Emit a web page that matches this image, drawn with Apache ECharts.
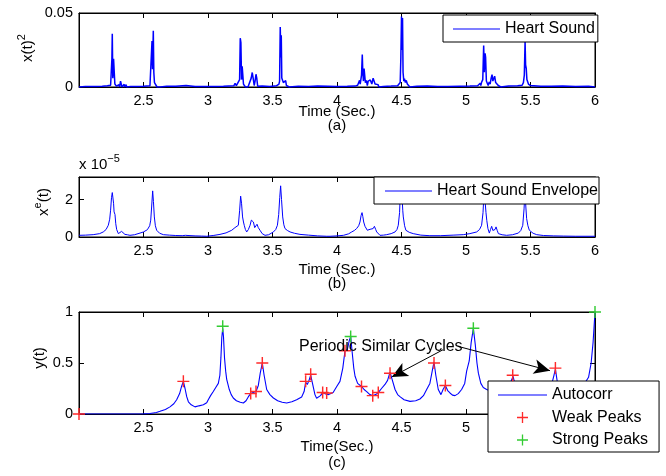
<!DOCTYPE html>
<html>
<head>
<meta charset="utf-8">
<script src="https://cdn.jsdelivr.net/npm/echarts@6/dist/echarts.min.js"></script>
<style>
html,body{margin:0;padding:0;background:#fff;}
#c{width:666px;height:476px;}
</style>
</head>
<body>
<div id="c"></div>
<script>
// ---------- DATA ----------
// (a) squared heart sound x(t)^2 : [time (s), value]
const heartSound = [
[2.00,0],[2.05,0.0003],[2.06,0],[2.12,0.0004],[2.13,0],[2.18,0.0005],[2.19,0],[2.22,0.0008],[2.23,0],
[2.245,0.0012],[2.25,0.002],[2.255,0.019],[2.258,0.036],[2.262,0.006],[2.268,0.019],[2.273,0.018],[2.278,0.002],
[2.29,0.0006],[2.3,0.0003],[2.31,0.0015],[2.315,0],[2.322,0.004],[2.328,0.0035],[2.333,0],[2.34,0.001],[2.35,0.0018],
[2.355,0],[2.365,0.0016],[2.37,0],[2.4,0.0004],[2.41,0],[2.45,0.0003],[2.46,0],[2.5,0.0005],[2.51,0],
[2.55,0.0008],[2.56,0.002],[2.566,0.031],[2.57,0.012],[2.576,0.038],[2.58,0.01],[2.585,0.003],[2.59,0.0035],
[2.595,0.002],[2.6,0.0032],[2.605,0],[2.62,0.0006],[2.63,0],[2.68,0.0005],[2.69,0],[2.75,0.0005],[2.76,0],
[2.83,0.001],[2.84,0.0008],[2.845,0],[2.9,0.0004],[2.91,0],[2.97,0.0003],[2.98,0],[3.05,0.0004],[3.06,0],
[3.12,0.0005],[3.13,0],[3.2,0.0008],[3.21,0.0025],[3.215,0.0027],[3.22,0.001],[3.235,0.001],[3.245,0.005],
[3.25,0.033],[3.255,0.03],[3.26,0.005],[3.265,0.014],[3.27,0.013],[3.275,0.002],[3.285,0.001],[3.29,0],
[3.3,0.001],[3.31,0],[3.325,0.001],[3.335,0.006],[3.343,0.0098],[3.35,0.006],[3.358,0.001],[3.365,0.004],
[3.372,0.0086],[3.378,0.006],[3.385,0.0005],[3.39,0],[3.42,0.0006],[3.43,0],[3.48,0.0004],[3.49,0],
[3.53,0.0008],[3.54,0.0012],[3.55,0.002],[3.555,0.004],[3.56,0.0405],[3.565,0.02],[3.568,0.035],[3.572,0.006],
[3.578,0.0045],[3.584,0.003],[3.59,0.0042],[3.596,0.002],[3.602,0.0043],[3.608,0.001],[3.62,0.0008],[3.63,0],
[3.7,0.0005],[3.71,0],[3.78,0.0004],[3.79,0],[3.85,0.0006],[3.86,0],[3.93,0.0005],[3.94,0],[4.0,0.0004],
[4.01,0],[4.08,0.0005],[4.09,0],[4.14,0.0006],[4.15,0],[4.16,0.0012],[4.165,0.0023],[4.17,0.001],[4.175,0.0045],
[4.18,0.002],[4.19,0.008],[4.196,0.022],[4.2,0.01],[4.205,0.004],[4.21,0.0125],[4.215,0.012],[4.22,0.003],
[4.228,0.0045],[4.235,0.001],[4.242,0.004],[4.25,0.003],[4.258,0.0048],[4.264,0.0052],[4.27,0.002],[4.28,0.006],
[4.287,0.0068],[4.295,0.002],[4.303,0.003],[4.31,0.0008],[4.318,0.0016],[4.325,0],[4.36,0.0004],[4.37,0],
[4.42,0.0006],[4.43,0],[4.47,0.0008],[4.48,0.0015],[4.49,0.003],[4.495,0.02],[4.5,0.0477],[4.504,0.025],
[4.508,0.0466],[4.512,0.01],[4.518,0.004],[4.523,0.0057],[4.53,0.003],[4.537,0.0045],[4.545,0.002],[4.555,0.0015],
[4.565,0],[4.62,0.0005],[4.63,0],[4.7,0.0007],[4.71,0],[4.78,0.0004],[4.79,0],[4.86,0.0004],[4.87,0],
[4.95,0.0005],[4.96,0],[5.03,0.0006],[5.04,0],[5.09,0.0008],[5.1,0.0012],[5.11,0.0025],[5.115,0.001],
[5.12,0.003],[5.13,0.005],[5.137,0.028],[5.142,0.01],[5.148,0.0227],[5.152,0.02],[5.158,0.004],[5.165,0.0045],
[5.172,0.001],[5.18,0.0034],[5.187,0.002],[5.195,0.006],[5.202,0.0084],[5.208,0.004],[5.215,0.005],[5.222,0.0073],
[5.23,0.003],[5.24,0.003],[5.25,0.001],[5.26,0.0012],[5.27,0],[5.33,0.0006],[5.34,0],[5.4,0.0008],[5.41,0],
[5.435,0.0012],[5.445,0.003],[5.452,0.008],[5.458,0.031],[5.462,0.015],[5.467,0.0125],[5.472,0.005],
[5.478,0.0045],[5.484,0.002],[5.49,0.0025],[5.5,0.001],[5.51,0],[5.58,0.0005],[5.59,0],[5.66,0.0005],[5.67,0],
[5.75,0.0006],[5.76,0],[5.85,0.0004],[5.86,0],[5.95,0.0005],[5.96,0],[6.0,0]
];

// (b) envelope x^e(t), values in units of 1e-5 : [time, value]
const envelope = [
[2.0,0.09],[2.05,0.1],[2.11,0.125],[2.16,0.18],[2.188,0.27],[2.21,0.4],[2.227,0.625],[2.238,0.95],[2.245,1.43],
[2.252,2.1],[2.258,2.37],[2.264,2.3],[2.268,1.8],[2.272,1.34],[2.279,1.2],[2.285,0.71],[2.292,0.4],[2.305,0.18],
[2.318,0.22],[2.33,0.3],[2.342,0.2],[2.356,0.14],[2.375,0.12],[2.395,0.09],[2.43,0.12],[2.473,0.21],[2.5,0.27],
[2.53,0.39],[2.548,0.6],[2.556,0.9],[2.563,1.6],[2.571,2.46],[2.577,1.9],[2.584,1.07],[2.592,0.6],[2.602,0.36],
[2.625,0.2],[2.654,0.125],[2.7,0.1],[2.75,0.08],[2.8,0.07],[2.825,0.09],[2.835,0.12],[2.845,0.08],[2.9,0.06],
[2.95,0.05],[2.99,0.04],[3.04,0.08],[3.093,0.14],[3.14,0.22],[3.184,0.36],[3.209,0.5],[3.222,0.45],[3.235,0.625],
[3.245,1.4],[3.253,2.18],[3.26,1.8],[3.268,1.07],[3.275,0.8],[3.281,0.625],[3.29,0.4],[3.3,0.27],[3.313,0.4],
[3.326,0.625],[3.336,0.9],[3.344,0.98],[3.352,0.8],[3.362,0.5],[3.372,0.6],[3.38,0.68],[3.39,0.5],[3.403,0.36],
[3.42,0.18],[3.442,0.09],[3.47,0.12],[3.507,0.27],[3.525,0.4],[3.538,0.625],[3.548,1.2],[3.556,2.1],[3.563,2.73],
[3.57,2.0],[3.579,1.07],[3.588,0.65],[3.597,0.45],[3.615,0.35],[3.636,0.27],[3.67,0.2],[3.713,0.14],[3.78,0.1],
[3.85,0.06],[3.92,0.04],[3.946,0.04],[4.0,0.06],[4.05,0.09],[4.09,0.17],[4.114,0.27],[4.135,0.35],[4.152,0.45],
[4.168,0.6],[4.178,0.8],[4.187,1.15],[4.194,1.3],[4.2,1.1],[4.207,0.8],[4.217,0.57],[4.235,0.36],[4.246,0.41],
[4.256,0.41],[4.269,0.32],[4.28,0.45],[4.29,0.57],[4.3,0.4],[4.308,0.27],[4.333,0.09],[4.36,0.1],[4.385,0.125],
[4.42,0.18],[4.45,0.27],[4.465,0.4],[4.475,0.625],[4.485,1.3],[4.49,2.2],[4.496,3.2],[4.503,2.3],[4.51,1.4],
[4.514,1.07],[4.524,0.6],[4.534,0.36],[4.56,0.25],[4.591,0.18],[4.65,0.1],[4.72,0.07],[4.8,0.07],[4.9,0.1],
[4.979,0.125],[5.03,0.18],[5.083,0.27],[5.105,0.4],[5.121,0.625],[5.132,1.3],[5.14,2.4],[5.148,1.9],[5.155,1.3],
[5.161,0.89],[5.17,0.45],[5.181,0.21],[5.19,0.4],[5.199,0.57],[5.208,0.35],[5.217,0.27],[5.225,0.4],[5.233,0.54],
[5.242,0.35],[5.251,0.18],[5.28,0.12],[5.315,0.09],[5.36,0.12],[5.406,0.21],[5.425,0.35],[5.44,0.625],[5.45,1.5],
[5.457,2.45],[5.464,1.6],[5.47,0.98],[5.48,0.6],[5.491,0.36],[5.52,0.2],[5.548,0.125],[5.6,0.08],[5.68,0.06],
[5.755,0.05],[5.85,0.04],[5.93,0.04],[6.0,0.04]
];

// (c) autocorrelation y(t) : [time, value]
const autocorr = [
[2.0,0],[2.1,0],[2.2,0],[2.3,0],[2.4,0],[2.5,0.001],[2.55,0.005],[2.6,0.015],[2.628,0.026],[2.67,0.045],
[2.705,0.07],[2.735,0.1],[2.757,0.14],[2.78,0.2],[2.795,0.27],[2.809,0.32],[2.822,0.25],[2.835,0.17],[2.848,0.12],
[2.87,0.09],[2.899,0.07],[2.93,0.08],[2.964,0.09],[2.99,0.11],[3.002,0.14],[3.02,0.18],[3.041,0.22],[3.06,0.26],
[3.08,0.3],[3.092,0.38],[3.1,0.55],[3.107,0.75],[3.114,0.84],[3.12,0.76],[3.128,0.55],[3.137,0.42],[3.145,0.34],
[3.165,0.24],[3.18,0.19],[3.196,0.157],[3.22,0.13],[3.25,0.115],[3.274,0.108],[3.295,0.13],[3.313,0.17],
[3.331,0.2],[3.35,0.21],[3.372,0.22],[3.39,0.28],[3.405,0.4],[3.421,0.5],[3.435,0.38],[3.455,0.24],[3.48,0.19],
[3.507,0.157],[3.54,0.13],[3.575,0.115],[3.61,0.108],[3.65,0.12],[3.687,0.14],[3.726,0.167],[3.745,0.22],
[3.757,0.31],[3.77,0.29],[3.783,0.33],[3.796,0.38],[3.81,0.3],[3.829,0.19],[3.842,0.155],[3.855,0.147],
[3.872,0.18],[3.889,0.21],[3.905,0.2],[3.92,0.205],[3.935,0.19],[3.95,0.185],[3.97,0.21],[3.998,0.27],
[4.023,0.32],[4.045,0.45],[4.062,0.62],[4.08,0.63],[4.095,0.72],[4.106,0.76],[4.118,0.6],[4.13,0.45],[4.14,0.37],
[4.16,0.3],[4.19,0.27],[4.21,0.24],[4.23,0.22],[4.255,0.19],[4.277,0.18],[4.3,0.19],[4.32,0.21],[4.345,0.25],
[4.372,0.29],[4.392,0.33],[4.411,0.41],[4.425,0.35],[4.45,0.24],[4.47,0.19],[4.488,0.17],[4.52,0.14],[4.566,0.124],
[4.61,0.13],[4.643,0.147],[4.67,0.18],[4.695,0.24],[4.72,0.3],[4.738,0.42],[4.752,0.51],[4.766,0.38],[4.785,0.24],
[4.806,0.19],[4.822,0.24],[4.84,0.28],[4.858,0.23],[4.876,0.206],[4.895,0.185],[4.915,0.18],[4.94,0.2],[4.966,0.24],
[4.99,0.3],[5.005,0.42],[5.025,0.52],[5.04,0.7],[5.057,0.84],[5.072,0.68],[5.085,0.5],[5.096,0.4],[5.115,0.3],
[5.134,0.26],[5.16,0.24],[5.2,0.22],[5.25,0.21],[5.3,0.23],[5.335,0.27],[5.352,0.33],[5.365,0.37],[5.378,0.3],
[5.395,0.24],[5.44,0.2],[5.5,0.18],[5.56,0.18],[5.62,0.21],[5.66,0.27],[5.68,0.37],[5.693,0.44],[5.706,0.33],
[5.725,0.24],[5.77,0.2],[5.83,0.21],[5.88,0.25],[5.92,0.3],[5.95,0.36],[5.97,0.5],[5.985,0.7],[6.0,1.0]
];

const weakPeaks = [
[2.0,0],[2.809,0.32],[3.331,0.2],[3.372,0.22],[3.421,0.5],[3.757,0.32],[3.796,0.39],[3.889,0.21],[3.92,0.205],
[4.062,0.62],[4.19,0.27],[4.277,0.18],[4.32,0.21],[4.411,0.4],[4.752,0.5],[4.84,0.28],[5.362,0.38],[5.693,0.45]
];
const strongPeaks = [[3.114,0.86],[4.106,0.76],[5.057,0.84],[6.0,1.0]];

// annotation arrows (data coords): [from, to]
const arrowLines = [
  [[4.822,0.63],[4.424,0.363]],
  [[4.938,0.663],[5.651,0.425]]
];

const xTicks = {min:2, max:6, interval:0.5};

// ---------- CHART ----------
const FONT = 'Liberation Sans, Arial, sans-serif';
const PLUS = 'path://M4.4,0H5.6V4.4H10V5.6H5.6V10H4.4V5.6H0V4.4H4.4Z';
const LINEICON = 'path://M0,0H47V1.1H0Z';
const grids = [
  {left:79, top:13, width:516, height:74},
  {left:79, top:177, width:516, height:60},
  {left:79, top:312, width:516, height:102}
];
const yRanges = [
  {min:0, max:0.05, interval:0.05},
  {min:0, max:3.2, interval:2},
  {min:0, max:1, interval:0.5}
];

const xAxes = [], yAxes = [];
grids.forEach((g, i) => {
  ['bottom','top'].forEach(pos => {
    xAxes.push({
      gridIndex:i, type:'value', position:pos, min:xTicks.min, max:xTicks.max, interval:xTicks.interval,
      axisLine:{show:true, onZero:false, lineStyle:{color:'#000', width:1}},
      axisTick:{show:true, inside:true, length:5, lineStyle:{color:'#000', width:1}},
      axisLabel:{show:pos==='bottom', color:'#000', fontFamily:FONT, fontSize:14.5, margin:6,
        formatter: v => (v === xTicks.min ? '' : String(+v.toFixed(2)))},
      splitLine:{show:false}
    });
  });
  ['left','right'].forEach(pos => {
    const r = yRanges[i];
    yAxes.push({
      gridIndex:i, type:'value', position:pos, min:r.min, max:r.max, interval:r.interval,
      axisLine:{show:true, onZero:false, lineStyle:{color:'#000', width:1}},
      axisTick:{show:true, inside:true, length:5, lineStyle:{color:'#000', width:1}},
      axisLabel:{show:pos==='left', color:'#000', fontFamily:FONT, fontSize:14.5, margin:6,
        formatter: v => {
          const k = Math.round(v / r.interval);
          if (Math.abs(k * r.interval - v) > 1e-9) return '';
          return String(+v.toFixed(3));
        }},
      splitLine:{show:false}
    });
  });
});

const legendBase = {
  backgroundColor:'#fff', borderColor:'#000', borderWidth:1, borderRadius:0,
  selectedMode:false, itemHeight:11,
  textStyle:{fontFamily:FONT, fontSize:16, color:'#000'}
};

const supRich = {
  b:{fontFamily:FONT, fontSize:15, lineHeight:24, color:'#000'},
  s:{fontFamily:FONT, fontSize:11, lineHeight:11, verticalAlign:'top', color:'#000'}
};
function label(x, y, text, opts) {
  return Object.assign({type:'text', x:x, y:y, silent:true,
    style:{text:text, fill:'#000', font:'15px ' + FONT, align:'center', verticalAlign:'middle'}}, opts || {});
}
function ylabel(x, y, text) {
  return {type:'text', x:x, y:y, rotation:Math.PI/2, silent:true,
    style:{text:text, rich:supRich, align:'center', verticalAlign:'middle', fill:'#000'}};
}

const option = {
  animation:false,
  backgroundColor:'#fff',
  textStyle:{fontFamily:FONT},
  grid: grids.map(g => Object.assign({show:true, borderColor:'#000', borderWidth:1, backgroundColor:'transparent'}, g)),
  xAxis: xAxes,
  yAxis: yAxes,
  legend: [
    Object.assign({}, legendBase, {data:[{name:'Heart Sound', icon:LINEICON}], left:443, top:15, padding:[6,3,5,10], itemWidth:47}),
    Object.assign({}, legendBase, {data:[{name:'Heart Sound Envelope', icon:LINEICON}], left:374, top:177, padding:[6,1,5,11], itemWidth:47}),
    Object.assign({}, legendBase, {data:[{name:'Autocorr', icon:LINEICON},'Weak Peaks','Strong Peaks'], orient:'vertical',
      left:488, top:381, padding:[6,11,4,10], itemGap:6.5, itemWidth:49})
  ],
  series: [
    {name:'Heart Sound', type:'line', xAxisIndex:0, yAxisIndex:0, data:heartSound, symbol:'none', showSymbol:false,
      lineStyle:{color:'#0000ff', width:1.5}, itemStyle:{color:'#0000ff'}},
    {name:'Heart Sound Envelope', type:'line', xAxisIndex:2, yAxisIndex:2, data:envelope, symbol:'none', showSymbol:false,
      lineStyle:{color:'#0000ff', width:1}, itemStyle:{color:'#0000ff'}},
    {name:'Autocorr', type:'line', xAxisIndex:4, yAxisIndex:4, data:autocorr, symbol:'none', showSymbol:false,
      lineStyle:{color:'#0000ff', width:1.1}, itemStyle:{color:'#0000ff'},
      markLine:{silent:true, animation:false, symbol:['none','arrow'], symbolSize:[11,16],
        lineStyle:{color:'#000', width:1, type:'solid'}, label:{show:false},
        emphasis:{disabled:true},
        data: arrowLines.map(a => [{coord:a[0]}, {coord:a[1]}])}},
    {name:'Weak Peaks', type:'scatter', xAxisIndex:4, yAxisIndex:4, data:weakPeaks, symbol:PLUS, symbolSize:12,
      itemStyle:{color:'#ff2a2a', opacity:1}, z:5},
    {name:'Strong Peaks', type:'scatter', xAxisIndex:4, yAxisIndex:4, data:strongPeaks, symbol:PLUS, symbolSize:12,
      itemStyle:{color:'#33cc33', opacity:1}, z:6}
  ],
  graphic: [
    ylabel(28, 48, '{b|x(t)}{s|2}'),
    ylabel(44, 202, '{b|x}{s|e}{b|(t)}'),
    ylabel(40, 358, '{b|y(t)}'),
    {type:'text', x:79, y:165, silent:true,
      style:{text:'{b|x 10}{s|−5}', rich:supRich, align:'left', verticalAlign:'middle', fill:'#000'}},
    label(337, 112, 'Time (Sec.)'),
    label(337, 126, '(a)'),
    label(337, 270, 'Time (Sec.)'),
    label(337, 284, '(b)'),
    label(337, 447, 'Time(Sec.)'),
    label(337, 463, '(c)'),
    {type:'text', x:299, y:347, silent:true, z:10,
      style:{text:'Periodic Similar Cycles', fill:'#000', font:'16px ' + FONT, align:'left', verticalAlign:'middle'}}
  ]
};

const chart = echarts.init(document.getElementById('c'), null, {renderer:'canvas'});
chart.setOption(option);
</script>
</body>
</html>
